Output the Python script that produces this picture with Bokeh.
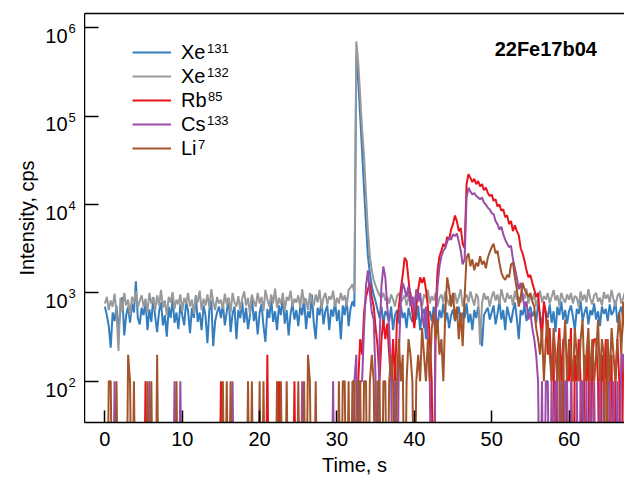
import numpy as np
from bokeh.plotting import figure
from bokeh.layouts import row
from bokeh.models import (ColumnDataSource, Legend, LegendItem, Label, FixedTicker,
                          CustomJSTickFormatter, LinearAxis, Range1d)
from bokeh.core.properties import value
from bokeh.embed import file_html
from bokeh.resources import INLINE

# ---------------- data (cps), sampled every 0.25 s from t = 0 s ----------------
T_START = 0.0
T_STEP = 0.25

xe131 = [
    700, 560, 420, 240, 600, 480, 720, 380, 620, 900, 330, 560, 700, 460, 760, 600, 1350, 520, 440, 680,
    560, 820, 380, 650, 470, 900, 540, 360, 620, 780, 430, 560, 320, 700, 520, 850, 460, 600, 390, 740,
    560, 430, 800, 620, 350, 680, 520, 940, 470, 600, 380, 720, 560, 270, 640, 820, 250, 480, 600, 700,
    520, 760, 430, 610, 880, 360, 580, 700, 300, 640, 520, 800, 460, 680, 390, 560, 920, 480, 620, 340,
    600, 750, 420, 280, 660, 520, 850, 470, 620, 380, 720, 560, 900, 450, 640, 330, 580, 760, 500, 640,
    420, 700, 560, 880, 390, 620, 520, 960, 460, 300, 680, 560, 820, 440, 620, 720, 380, 650, 540, 800,
    480, 640, 300, 720, 560, 880, 420, 660, 800, 700, 500000, 250000, 100000, 40000, 15000, 6000, 2600, 1700, 1200, 950,
    800, 640, 520, 700, 450, 620, 560, 480, 700, 380, 560, 640, 450, 720, 520, 600, 400, 680, 540, 470,
    620, 500, 720, 380, 580, 660, 300, 540, 620, 480, 700, 560, 420, 640, 520, 760, 480, 600, 400, 560,
    650, 480, 560, 700, 420, 600, 520, 760, 460, 580, 380, 640, 520, 700, 450, 250, 560, 620, 680, 500,
    600, 720, 440, 580, 820, 500, 640, 380, 700, 560, 460, 620, 780, 520, 300, 640, 560, 720, 480, 600,
    700, 540, 620, 460, 760, 580, 420, 680, 600, 520, 740, 460, 620, 360, 700, 560, 800, 500, 640, 450,
    620, 720, 540, 380, 660, 580, 820, 480, 600, 700, 440, 640, 560, 760, 500, 620, 420, 700, 580, 660,
    480, 740, 560, 620, 820, 460, 600, 700, 520, 640, 580,
]

xe132 = [
    760, 900, 640, 820, 700, 980, 600, 220, 880, 620, 1000, 720, 840, 560, 900, 780, 1050, 680, 820, 940,
    700, 860, 600, 1000, 760, 880, 640, 940, 720, 1080, 680, 820, 560, 900, 780, 1020, 660, 840, 740, 960,
    620, 880, 760, 1000, 700, 840, 580, 920, 780, 1060, 640, 860, 720, 960, 680, 1100, 800, 640, 900, 760,
    840, 660, 980, 740, 880, 600, 1000, 780, 700, 920, 640, 860, 1040, 720, 880, 580, 960, 800, 700, 1000,
    760, 900, 620, 1080, 840, 700, 960, 760, 1120, 680, 880, 740, 1000, 620, 900, 820, 1060, 700, 860, 780,
    940, 680, 1100, 760, 860, 640, 1000, 820, 720, 960, 780, 1080, 660, 880, 1000, 740, 920, 840, 1060, 700,
    880, 760, 1000, 820, 940, 700, 1080, 1150, 1250, 1000, 700000, 400000, 170000, 70000, 35000, 13000, 5000, 2600, 1800, 1400,
    1200, 1050, 940, 880, 1000, 820, 900, 760, 960, 840, 700, 920, 1000, 780, 860, 940, 720, 880, 1020, 800,
    900, 760, 1000, 840, 700, 960, 880, 1080, 760, 920, 820, 1000, 700, 880, 960, 780, 1040, 860, 720, 940,
    820, 1000, 760, 900, 1100, 700, 880, 960, 780, 1040, 860, 720, 980, 880, 260, 760, 1000, 840, 920, 700,
    900, 1040, 820, 960, 740, 1100, 880, 780, 1000, 860, 940, 720, 1060, 840, 900, 780, 1000, 860, 1120, 760,
    940, 820, 1000, 700, 880, 1060, 780, 920, 840, 1000, 760, 900, 1080, 820, 940, 720, 1000, 860, 780, 960,
    840, 1000, 760, 920, 880, 700, 1040, 820, 960, 780, 1100, 860, 740, 940, 1000, 800, 880, 720, 1020, 860,
    960, 780, 1080, 840, 700, 920, 1000, 760, 880, 1040, 820,
]

rb85 = [
    0, 0, 0, 0, 0, 0, 0, 0, 0, 0, 0, 0, 0, 0, 0, 0, 0, 0, 0, 0,
    0, 100, 0, 0, 0, 0, 0, 0, 0, 0, 0, 0, 0, 0, 0, 0, 0, 0, 0, 0,
    0, 0, 0, 0, 0, 0, 0, 0, 0, 0, 0, 0, 0, 0, 0, 0, 0, 0, 0, 0,
    100, 0, 0, 0, 0, 0, 0, 0, 0, 0, 0, 0, 0, 0, 0, 0, 0, 0, 0, 0,
    0, 0, 0, 0, 200, 0, 0, 0, 0, 0, 100, 0, 0, 0, 0, 0, 0, 0, 100, 0,
    0, 0, 0, 0, 0, 0, 0, 0, 0, 0, 0, 0, 0, 0, 0, 0, 0, 0, 0, 0,
    0, 0, 0, 0, 0, 0, 0, 0, 0, 0, 0, 100, 300, 200, 600, 900, 1100, 1300, 900, 700,
    400, 250, 100, 300, 500, 300, 450, 200, 100, 300, 100, 500, 700, 1100, 1600, 2500, 2300, 1400, 900, 600,
    400, 700, 1100, 1500, 1300, 1500, 1100, 700, 300, 100, 0, 600, 1800, 2600, 3000, 3600, 3300, 4300, 4000, 5200,
    6000, 7500, 6500, 5000, 5400, 3600, 3200, 17000, 22000, 20000, 18000, 19500, 17000, 18500, 16000, 17000, 14500, 15500, 13500, 12500,
    13000, 11000, 11500, 9500, 10000, 8500, 8800, 7200, 7500, 6000, 6500, 5000, 5800, 5000, 4500, 3200, 2800, 2300, 1800, 1500,
    1600, 1300, 1100, 900, 1000, 500, 300, 800, 600, 200, 400, 100, 300, 0, 200, 400, 100, 300, 0, 200,
    100, 400, 0, 200, 100, 300, 100, 0, 200, 100, 300, 0, 200, 300, 300, 100, 0, 200, 100, 300,
    0, 100, 200, 0, 100, 300, 100, 0, 200, 100, 300,
]

cs133 = [
    0, 0, 0, 0, 0, 100, 0, 0, 0, 0, 0, 0, 0, 0, 0, 0, 0, 0, 0, 0,
    0, 0, 0, 100, 0, 0, 0, 0, 0, 0, 0, 0, 0, 0, 0, 0, 100, 0, 0, 100,
    0, 0, 0, 0, 0, 0, 0, 0, 0, 0, 0, 0, 0, 0, 0, 0, 0, 0, 0, 0,
    0, 0, 0, 0, 0, 0, 100, 0, 0, 0, 0, 0, 0, 0, 0, 0, 0, 0, 0, 0,
    0, 0, 0, 0, 0, 0, 0, 0, 0, 0, 0, 0, 0, 0, 0, 0, 0, 0, 0, 0,
    0, 0, 100, 0, 0, 0, 0, 0, 0, 0, 0, 0, 0, 0, 0, 0, 0, 0, 100, 0,
    0, 0, 0, 0, 0, 0, 0, 0, 0, 100, 200, 0, 100, 100, 400, 1200, 1800, 1000, 600, 500,
    100, 0, 300, 1200, 2000, 1500, 700, 400, 100, 0, 100, 0, 200, 800, 1300, 1100, 900, 1200, 700, 900,
    600, 1100, 800, 1000, 600, 400, 700, 300, 100, 0, 0, 500, 1200, 2000, 2600, 3000, 3200, 3800, 4200, 4000,
    4600, 4400, 4700, 3800, 3000, 2100, 2400, 12000, 15500, 14000, 13000, 13500, 12500, 12000, 11500, 12000, 10500, 10000, 9200, 8800,
    8000, 7800, 6500, 6000, 5200, 5600, 4600, 4000, 3600, 3300, 3400, 2400, 1900, 1500, 1100, 1300, 900, 700, 800, 500,
    600, 400, 300, 200, 100, 0, 100, 0, 100, 100, 0, 100, 0, 100, 100, 0, 100, 0, 100, 100,
    0, 100, 0, 0, 100, 0, 100, 100, 0, 100, 0, 100, 0, 100, 0, 0, 100, 0, 100, 0,
    100, 100, 0, 100, 0, 100, 0, 200, 200, 100, 0,
]

li7 = [
    0, 0, 100, 100, 0, 0, 100, 0, 0, 0, 0, 0, 200, 100, 0, 100, 0, 0, 0, 0,
    0, 0, 100, 0, 100, 0, 0, 200, 0, 0, 0, 0, 0, 0, 0, 0, 0, 100, 0, 0,
    0, 0, 0, 0, 0, 0, 0, 0, 0, 0, 0, 0, 0, 0, 0, 0, 0, 0, 0, 0,
    0, 100, 0, 100, 0, 100, 0, 0, 0, 0, 0, 0, 0, 0, 100, 0, 100, 0, 0, 0,
    100, 0, 100, 0, 0, 0, 0, 0, 0, 100, 0, 100, 0, 0, 100, 0, 0, 0, 0, 0,
    100, 0, 0, 100, 0, 200, 100, 0, 0, 100, 0, 0, 0, 0, 0, 0, 0, 0, 0, 0,
    0, 100, 0, 100, 100, 0, 100, 0, 100, 100, 0, 100, 100, 0, 100, 100, 0, 100, 200, 100,
    0, 100, 100, 0, 100, 100, 0, 100, 200, 100, 0, 100, 300, 100, 200, 0, 100, 300, 200, 100,
    0, 100, 200, 100, 400, 200, 100, 300, 100, 400, 600, 300, 500, 200, 300, 100, 600, 1500, 1100, 700,
    1000, 500, 700, 300, 600, 250, 900, 2500, 2800, 2000, 2400, 1800, 2200, 2000, 2600, 2100, 2300, 1900, 2500, 2900,
    3300, 3600, 2800, 3000, 2200, 1700, 1500, 1400, 1600, 1500, 2100, 2200, 1500, 1100, 700, 900, 1300, 1100, 1000, 900,
    1000, 800, 700, 400, 300, 200, 400, 100, 300, 500, 200, 100, 400, 200, 100, 300, 0, 200, 500, 100,
    300, 200, 100, 400, 200, 100, 300, 500, 100, 200, 400, 100, 300, 100, 200, 500, 100, 300, 200, 0,
    300, 100, 400, 200, 100, 300, 600, 200, 800, 300, 500,
]

series_elements = ["Xe", "Xe", "Rb", "Cs", "Li"]
series_masses = ["131", "132", "85", "133", "7"]
series_values = [xe131, xe132, rb85, cs133, li7]
series_colors = ["#347dbe", "#999999", "#e8141c", "#9a4ca6", "#a3542a"]

x_ticks = [0, 10, 20, 30, 40, 50, 60]
y_ticks = [1e2, 1e3, 1e4, 1e5, 1e6]
y_tick_base = "10"
y_tick_exponents = ["2", "3", "4", "5", "6"]
title_text = "22Fe17b04"
x_label = "Time, s"
y_label = "Intensity, cps"

FONT = "Liberation Sans"

# ---------------- layout constants (pixels) ----------------
W, H = 624, 482
LEFT_W = 84                    # width of the y-label strip
FR_T, FR_B = 13, 422           # frame top / bottom
X0, X1 = -2.64, 67.17
LY0, LY1 = np.log10(34.2), np.log10(1.448e6)
MAIN_W = W - LEFT_W


def px_to_x(px):               # px measured from the left edge of the main plot frame
    return X0 + px / MAIN_W * (X1 - X0)


def px_to_y(py):
    return 10 ** (LY1 - (py - FR_T) / (FR_B - FR_T) * (LY1 - LY0))


def y_to_px(v):
    return FR_T + (LY1 - np.log10(v)) / (LY1 - LY0) * (FR_B - FR_T)


yr = Range1d(10 ** LY0, 10 ** LY1)

# ---------------- main plot ----------------
n = len(xe131)
time = T_START + T_STEP * np.arange(n)

p = figure(width=MAIN_W, height=H, y_axis_type="log",
           x_range=Range1d(X0, X1), y_range=yr,
           output_backend="svg", toolbar_location=None,
           min_border_left=0, min_border_right=0,
           min_border_top=FR_T, min_border_bottom=H - FR_B)
p.outline_line_color = None
p.grid.visible = False
p.background_fill_color = "white"

renderers = []
for vals, col in zip(series_values, series_colors):
    arr = np.asarray(vals, dtype=float)
    arr = np.where(arr > 0, arr, 1.0)  # zero counts fall below the log axis
    src = ColumnDataSource(dict(t=time, v=arr))
    r = p.line("t", "v", source=src, line_color=col, line_width=2.0)
    renderers.append(r)

xa = p.xaxis[0]
xa.ticker = FixedTicker(ticks=x_ticks)
xa.axis_label = x_label
ya = p.yaxis[0]
ya.ticker = FixedTicker(ticks=y_ticks)
ya.formatter = CustomJSTickFormatter(code="return '';")
ya.major_label_text_font_size = "0px"
ya.major_label_standoff = 0

for ax, tin in ((xa, 12), (ya, 14)):
    ax.axis_line_color = "black"
    ax.axis_line_width = 1.5
    ax.major_tick_in = tin
    ax.major_tick_out = 0
    ax.major_tick_line_width = 1.5
    ax.major_tick_line_color = "black"
    ax.minor_tick_line_color = None
    ax.axis_label_text_font = FONT
    ax.axis_label_text_font_size = "20px"
    ax.axis_label_text_font_style = "normal"
    ax.axis_label_text_color = "black"
xa.major_label_text_font = FONT
xa.major_label_text_font_size = "20px"
xa.major_label_text_color = "black"
xa.major_label_standoff = 9
xa.axis_label_standoff = 5

top = LinearAxis(ticker=FixedTicker(ticks=[]), axis_line_color="black", axis_line_width=1.5,
                 major_tick_in=0, major_tick_out=0, minor_tick_line_color=None,
                 major_label_text_font_size="0px", major_label_standoff=0)
p.add_layout(top, "above")

legend = Legend(items=[LegendItem(label=nm, renderers=[r]) for nm, r in zip(series_elements, renderers)],
                location=(48, 262), orientation="vertical",
                label_text_font=FONT, label_text_font_size="20px", label_text_color="black",
                glyph_width=39, glyph_height=24, label_height=24, label_standoff=10,
                spacing=0, padding=0, margin=0,
                border_line_color=None, background_fill_alpha=0)
p.add_layout(legend)

# isotope mass numbers as superscripts next to the legend labels
elem_width = {"Xe": 24.5, "Rb": 25.6, "Cs": 24.4, "Li": 15.6}
for k, (el, ms) in enumerate(zip(series_elements, series_masses)):
    row_c = 51.3 + 24 * k
    p.add_layout(Label(x=px_to_x(97 + elem_width[el] + 1), y=px_to_y(row_c - 3.0), text=ms,
                       text_font=FONT, text_font_size="13px", text_color="black",
                       text_align="left", text_baseline="alphabetic"))

p.add_layout(Label(x=px_to_x(461.3), y=px_to_y(48.3), text=title_text, text_font=FONT,
                   text_font_size="20px", text_font_style="bold", text_color="black",
                   text_align="center", text_baseline="middle"))

# ---------------- y-label strip (tick labels with superscript exponents) ----------------
lp = figure(width=LEFT_W, height=H, y_axis_type="log",
            x_range=Range1d(0, LEFT_W), y_range=yr,
            x_axis_location=None, y_axis_location=None,
            output_backend="svg", toolbar_location=None,
            min_border_left=0, min_border_right=0,
            min_border_top=FR_T, min_border_bottom=H - FR_B)
lp.outline_line_color = None
lp.grid.visible = False

tick_px = [y_to_px(t) for t in y_ticks]
lp.text(x=[67] * len(y_ticks), y=[px_to_y(tp + 8.3) for tp in tick_px], text=[y_tick_base] * len(y_ticks),
        text_font=value(FONT), text_font_size="20px", text_color="black",
        text_align="right", text_baseline="alphabetic")
lp.text(x=[68] * len(y_ticks), y=[px_to_y(tp + 1.0) for tp in tick_px], text=y_tick_exponents,
        text_font=value(FONT), text_font_size="13px", text_color="black",
        text_align="left", text_baseline="alphabetic")
lp.text(x=[26.7], y=[px_to_y((FR_T + FR_B) / 2)], text=[y_label], angle=np.pi / 2,
        text_font=value(FONT), text_font_size="20px", text_color="black",
        text_align="center", text_baseline="alphabetic")

layout = row(lp, p)
open("out.html", "w").write(file_html(layout, INLINE))
